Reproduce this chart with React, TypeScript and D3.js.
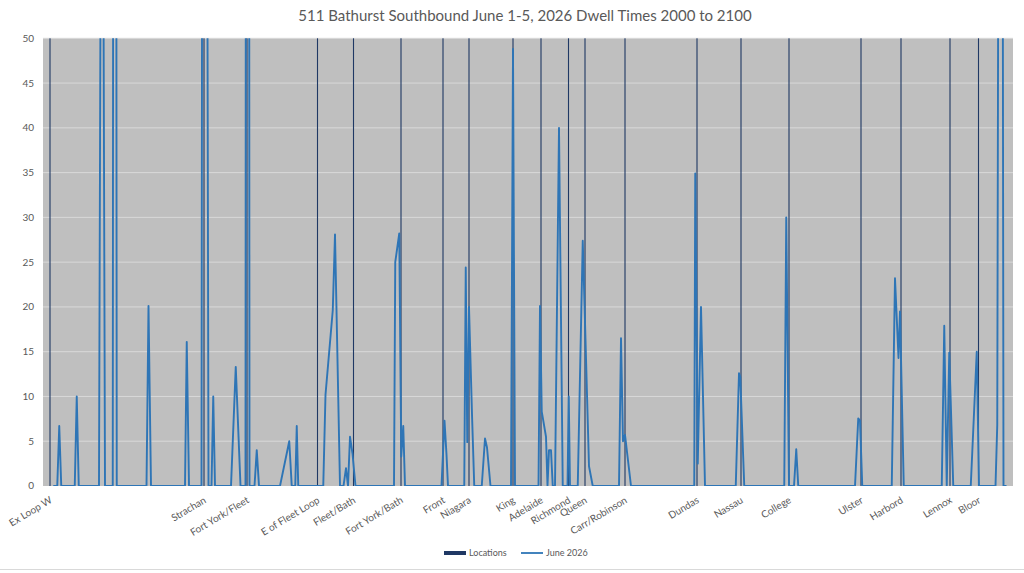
import * as d3 from 'd3';

// 511 Bathurst southbound, dwell times by distance along the route (m)
const chartTitle = '511 Bathurst Southbound June 1-5, 2026 Dwell Times 2000 to 2100';
const routeLength = 3880;
const yMax = 50;

const stopNames = [
  'Ex Loop W', 'Strachan', 'Fort York/Fleet', 'E of Fleet Loop', 'Fleet/Bath',
  'Fort York/Bath', 'Front', 'Niagara', 'King', 'Adelaide', 'Richmond', 'Queen',
  'Carr/Robinson', 'Dundas', 'Nassau', 'College', 'Ulster', 'Harbord', 'Lennox', 'Bloor',
];
const stopDist = [
  28, 644, 816, 1098, 1242, 1432, 1600, 1704, 1880, 1992, 2102, 2168,
  2328, 2616, 2792, 2984, 3272, 3432, 3628, 3742,
];
const stopValue = 50;

const dwellDist = [
  41, 57, 65, 73, 127, 135, 143, 224, 236, 248, 279, 287, 295, 414, 422, 432,
  568, 575, 584, 634, 642, 652, 662, 674, 681, 688, 752, 771, 790, 810, 818, 826,
  846, 855, 864, 948, 985, 995, 1009, 1015, 1021, 1121, 1130, 1159, 1168, 1188,
  1202, 1212, 1220, 1228, 1238, 1250, 1404, 1409, 1425, 1433, 1441, 1448,
  1594, 1606, 1614, 1620, 1685, 1691, 1697, 1704, 1716, 1725, 1755, 1768, 1776, 1790,
  1872, 1880, 1888, 1982, 1988, 1995, 2012, 2018, 2024, 2032, 2039, 2048, 2064, 2079,
  2098, 2103, 2108, 2139, 2159, 2184, 2199, 2304, 2312, 2320, 2328, 2352,
  2605, 2609, 2619, 2632, 2648, 2771, 2784, 2789, 2805, 2965, 2973, 2984,
  3004, 3013, 3021, 3248, 3261, 3268, 3277, 3395, 3408, 3422, 3428, 3443,
  3595, 3605, 3615, 3625, 3641, 3711, 3735, 3744, 3810, 3817, 3832, 3842, 3854,
];
const dwellSecs = [
  0, 0, 6.7, 0, 0, 10, 0, 0, 110, 0, 0, 300, 0, 0, 20.1, 0,
  0, 16.1, 0, 0, 200, 130, 0, 0, 10, 0, 0, 13.3, 0, 0, 400, 0,
  0, 4, 0, 0, 5, 0, 0, 6.7, 0, 0, 10.2, 19.6, 28.1, 0,
  0, 2, 0, 5.5, 3.6, 0, 0, 25, 28.2, 3.3, 6.7, 0,
  0, 7.3, 3.5, 0, 0, 24.4, 4.9, 20, 8, 0, 0, 5.3, 4.3, 0,
  0, 48.8, 0, 0, 20.1, 8.3, 5.5, 0, 4, 4, 0, 0, 40, 0,
  0, 10, 0, 0, 27.4, 2.2, 0, 0, 16.5, 5, 5.7, 0,
  0, 34.9, 2.5, 20, 0, 0, 12.6, 12.2, 0, 0, 30, 0,
  0, 4.1, 0, 0, 7.55, 7.3, 0, 0, 23.2, 14.3, 19.5, 0,
  0, 17.9, 0, 14.9, 0, 0, 15, 0, 0, 6.8, 200, 0, 0,
];

const width = 1024;
const height = 573;
const margin = { top: 38.3, right: 11, bottom: 87, left: 43 };
const font = 'Lato, "Open Sans", sans-serif';
const textColor = '#595959';

export default function App() {
  const innerW = width - margin.left - margin.right;
  const innerH = height - margin.top - margin.bottom;

  const x = d3.scaleLinear().domain([0, routeLength]).range([0, innerW]);
  const y = d3.scaleLinear().domain([0, yMax]).range([innerH, 0]);

  const points = dwellDist.map((d, i) => [d, dwellSecs[i]] as [number, number]);
  const line = d3
    .line<[number, number]>()
    .x((d) => x(d[0]))
    .y((d) => y(d[1]));

  return (
    <svg
      width={width}
      height={height}
      style={{ position: 'absolute', left: 0, top: 0, background: '#fff' }}
      fontFamily={font}
    >
      <defs>
        <clipPath id="plot">
          <rect width={innerW} height={innerH} />
        </clipPath>
      </defs>

      <text x={525} y={21} textAnchor="middle" fontSize={15} fill={textColor}>
        {chartTitle}
      </text>

      <g transform={`translate(${margin.left},${margin.top})`}>
        <rect width={innerW} height={innerH} fill="#bfbfbf" />

        {y.ticks(10).map((t) => (
          <g key={t}>
            {t > 0 && (
              <line x1={0} x2={innerW} y1={y(t)} y2={y(t)} stroke="#d9d9d9" strokeWidth={1} />
            )}
            <text
              x={-9}
              y={y(t)}
              dy="0.35em"
              textAnchor="end"
              fontSize={10}
              fill={textColor}
            >
              {t}
            </text>
          </g>
        ))}

        {/* location columns */}
        {stopDist.map((d, i) => (
          <rect
            key={stopNames[i]}
            x={x(d) - 0.55}
            y={y(stopValue)}
            width={1.1}
            height={innerH - y(stopValue)}
            fill="#1f3864"
          />
        ))}

        <path
          d={line(points) ?? ''}
          fill="none"
          stroke="#2e75b6"
          strokeWidth={1.9}
          strokeLinejoin="round"
          clipPath="url(#plot)"
        />

        {stopDist.map((d, i) => (
          <text
            key={stopNames[i]}
            transform={`translate(${x(d) + 1},${innerH + 13}) rotate(-31)`}
            dy="0.35em"
            textAnchor="end"
            fontSize={10}
            fill={textColor}
          >
            {stopNames[i]}
          </text>
        ))}
      </g>

      {/* legend */}
      <g transform="translate(444,553)">
        <rect x={0} y={-2} width={22} height={4} fill="#1f3864" />
        <text x={25} dy="0.35em" fontSize={9} fill={textColor}>
          Locations
        </text>
        <line x1={77} x2={99} y1={0} y2={0} stroke="#2e75b6" strokeWidth={1.8} />
        <text x={102} dy="0.35em" fontSize={9} fill={textColor}>
          June 2026
        </text>
      </g>

      <line x1={0} x2={width} y1={569.5} y2={569.5} stroke="#d9d9d9" />
    </svg>
  );
}
